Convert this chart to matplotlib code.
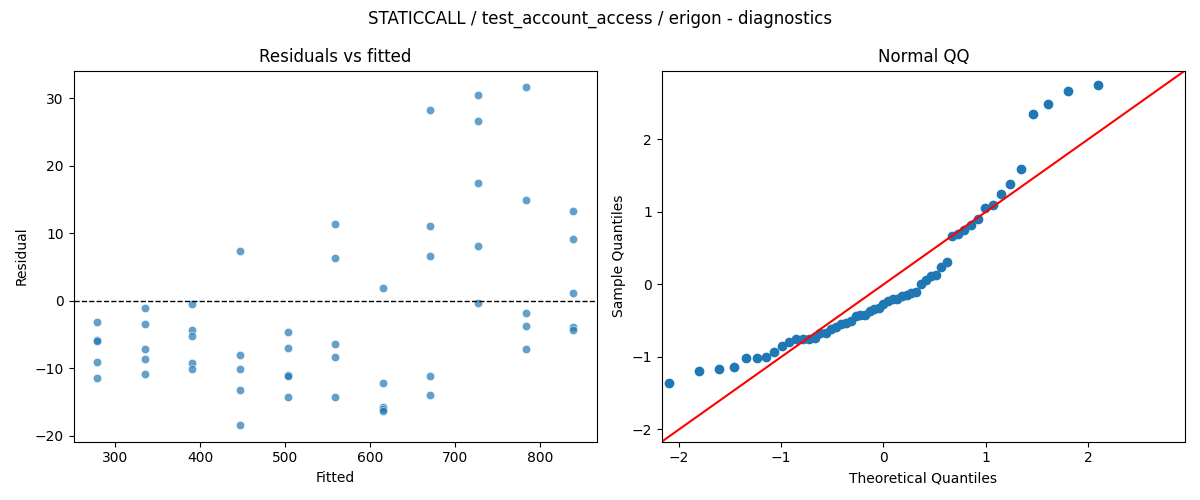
import numpy as np
import matplotlib
matplotlib.use("Agg")
import matplotlib.pyplot as plt
import seaborn as sns
from statistics import NormalDist


# fitted value of each group and the residuals read for it
fitted_levels = [279, 335, 391, 447, 503, 559, 615, 671, 727, 783, 839]
residuals = [
    [-3.2, -5.8, -6.0, -9.1, -11.5],
    [-1.1, -3.4, -7.1, -8.6, -10.8],
    [-0.5, -4.4, -5.2, -9.3, -10.1],
    [7.3, -8.0, -10.1, -13.2, -18.4],
    [-4.6, -7.0, -11.0, -11.1, -14.2],
    [11.4, 6.3, -6.4, -8.3, -14.2],
    [1.9, -12.2, -15.8, -16.1, -16.4],
    [28.3, 11.0, 6.6, -11.1, -14.0],
    [30.5, 26.7, 17.4, 8.1, -0.3],
    [31.6, 14.9, -1.8, -3.7, -7.2],
    [13.3, 9.1, 1.1, -3.9, -4.4],
]

titulo = "STATICCALL / test_account_access / erigon - diagnostics"


fitted = []
resid = []
for nivel, grupo in zip(fitted_levels, residuals):
    for r in grupo:
        fitted.append(nivel)
        resid.append(r)
fitted = np.array(fitted, dtype=float)
resid = np.array(resid, dtype=float)


# QQ: standardised residuals against normal quantiles
n = len(resid)
muestra = np.sort((resid - resid.mean()) / resid.std())
teoricos = np.array([NormalDist().inv_cdf(i / (n + 1)) for i in range(1, n + 1)])


fig, (ax1, ax2) = plt.subplots(1, 2, figsize=(12, 5), dpi=100)

sns.scatterplot(x=fitted, y=resid, alpha=0.7, ax=ax1)
ax1.axhline(0, color="black", linestyle="--", linewidth=1)
ax1.set_title("Residuals vs fitted")
ax1.set_xlabel("Fitted")
ax1.set_ylabel("Residual")

ax2.plot(teoricos, muestra, marker="o", linestyle="none", color="#1f77b4")
lims = [-2.17, 2.95]
ax2.plot(lims, lims, "r-")
ax2.set_xlim(lims)
ax2.set_ylim(lims)
ax2.set_title("Normal QQ")
ax2.set_xlabel("Theoretical Quantiles")
ax2.set_ylabel("Sample Quantiles")

fig.suptitle(titulo)

plt.tight_layout()

plt.savefig("out.png")
